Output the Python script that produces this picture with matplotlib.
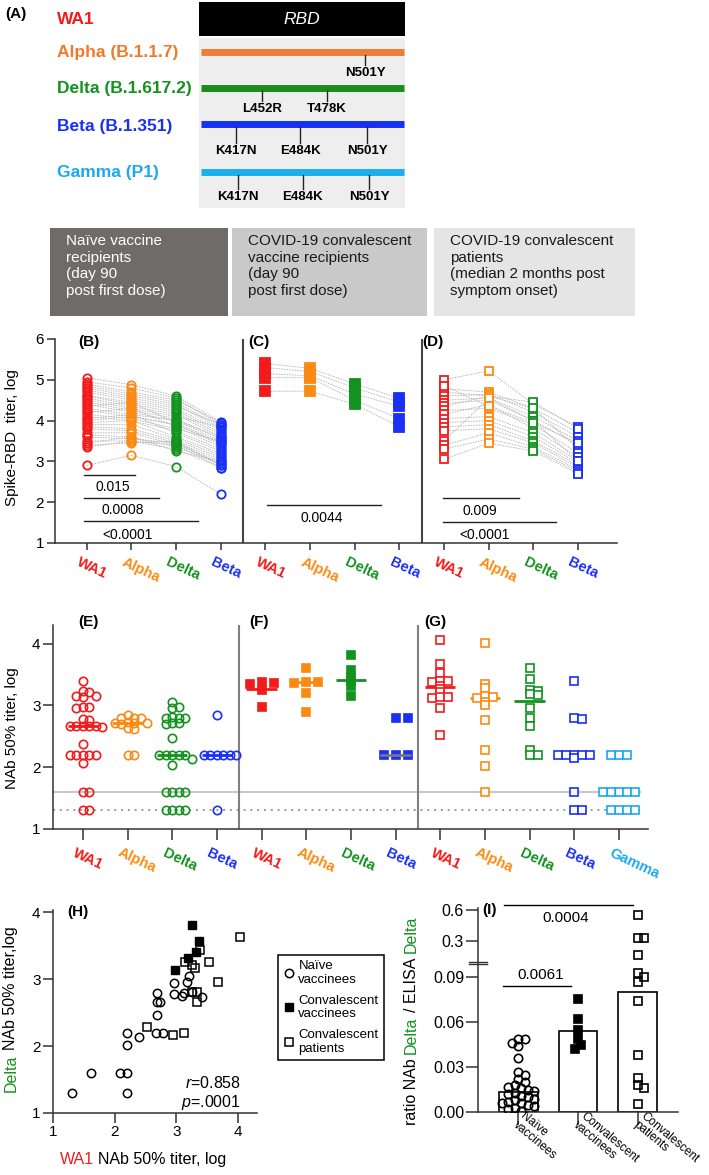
import numpy as np
import matplotlib
matplotlib.use('Agg')
import matplotlib.pyplot as plt
from matplotlib.transforms import ScaledTranslation
from matplotlib.patches import Rectangle

plt.rcParams['font.family'] = ['Liberation Sans', 'DejaVu Sans']
plt.rcParams['mathtext.fontset'] = 'custom'
plt.rcParams['mathtext.it'] = 'Liberation Sans:italic'
plt.rcParams['mathtext.rm'] = 'Liberation Sans'

W, H = 709, 1175

# colours
vcol = {'WA1': '#f21a1a', 'Alpha': '#fb8a12', 'Delta': '#12921e',
        'Beta': '#1a30f5', 'Gamma': '#1ca8ee'}
bar_col = {'Alpha': '#ef7d3a', 'Delta': '#1a8c1a', 'Beta': '#1432f0', 'Gamma': '#1ab0ee'}
GREEN = '#12921e'
RED = '#f21a1a'

# ---------------- data ----------------
# panel A: mutations (x = fraction along the RBD bar)
variant_labels = ['WA1', 'Alpha (B.1.1.7)', 'Delta (B.1.617.2)', 'Beta (B.1.351)', 'Gamma (P1)']
variant_keys = ['WA1', 'Alpha', 'Delta', 'Beta', 'Gamma']
mut_names = {'Alpha': ['N501Y'],
             'Delta': ['L452R', 'T478K'],
             'Beta': ['K417N', 'E484K', 'N501Y'],
             'Gamma': ['K417N', 'E484K', 'N501Y']}
mut_pos = {'Alpha': [0.81],
           'Delta': [0.30, 0.62],
           'Beta': [0.17, 0.49, 0.82],
           'Gamma': [0.18, 0.50, 0.83]}

headers = ['Naïve vaccine\nrecipients\n(day 90\npost first dose)',
           'COVID-19 convalescent\nvaccine recipients\n(day 90\npost first dose)',
           'COVID-19 convalescent\npatients\n(median 2 months post\nsymptom onset)']

# panels B-D: spike-RBD titer, log (columns WA1, Alpha, Delta, Beta)
rbd_naive = np.array([
    [5.05, 4.88, 4.60, 3.97], [4.95, 4.80, 4.55, 3.90], [4.90, 4.70, 4.50, 3.95],
    [4.85, 4.65, 4.45, 3.85], [4.80, 4.60, 4.40, 3.80], [4.75, 4.55, 4.35, 3.90],
    [4.70, 4.50, 4.30, 3.75], [4.62, 4.45, 4.25, 3.70], [4.60, 4.40, 4.20, 3.65],
    [4.55, 4.35, 4.15, 3.60], [4.50, 4.30, 4.10, 3.85], [4.45, 4.25, 4.05, 3.55],
    [4.40, 4.20, 4.00, 3.50], [4.35, 4.45, 3.95, 3.45], [4.30, 4.15, 4.00, 3.60],
    [4.25, 4.10, 3.90, 3.40], [4.20, 4.30, 3.85, 3.35], [4.15, 4.05, 3.80, 3.50],
    [4.10, 4.00, 3.75, 3.30], [4.05, 4.15, 3.70, 3.25], [4.00, 4.10, 3.90, 3.45],
    [3.95, 4.00, 3.60, 3.20], [3.90, 3.90, 3.55, 3.15], [3.85, 3.80, 3.50, 3.10],
    [3.80, 3.75, 3.45, 3.05], [3.70, 3.70, 3.40, 3.00], [3.65, 3.60, 3.35, 2.95],
    [3.60, 3.55, 3.45, 2.90], [3.50, 3.50, 3.30, 2.85], [3.45, 3.60, 3.25, 3.00],
    [3.40, 3.45, 3.50, 2.90], [3.35, 3.50, 3.40, 2.85], [2.90, 3.15, 2.87, 2.20]])
rbd_conv_vacc = np.array([
    [5.40, 5.28, 4.90, 4.55], [5.30, 5.20, 4.80, 4.45], [5.15, 5.10, 4.65, 4.35],
    [5.05, 5.05, 4.50, 4.05], [4.72, 4.72, 4.40, 3.85]])
rbd_conv_pat = np.array([
    [5.00, 5.22, 4.40, 3.85], [4.78, 4.70, 4.30, 3.70], [4.70, 4.60, 4.45, 3.80],
    [4.60, 4.65, 4.20, 3.60], [4.50, 4.55, 4.10, 3.50], [4.42, 4.50, 4.00, 3.40],
    [4.35, 4.60, 4.30, 3.30], [4.25, 4.30, 3.90, 3.20], [4.15, 4.40, 3.80, 3.10],
    [4.05, 4.10, 3.70, 3.00], [3.95, 4.00, 3.60, 2.95], [3.85, 3.90, 3.50, 2.90],
    [3.75, 3.80, 3.45, 2.85], [3.50, 4.55, 4.00, 3.00], [3.40, 3.70, 3.35, 2.80],
    [3.30, 3.55, 3.30, 2.75], [3.05, 3.45, 3.25, 2.70], [4.85, 4.35, 3.95, 3.45]])
rbd_brackets = [(-0.05, 1.07, 2.66, '0.015', 0.58, 2.38),
                (-0.05, 1.62, 2.10, '0.0008', 0.80, 1.80),
                (-0.05, 2.49, 1.53, '<0.0001', 0.91, 1.20),
                (4.04, 6.58, 1.92, '0.0044', 5.25, 1.61),
                (7.98, 9.67, 2.10, '0.009', 8.80, 1.79),
                (7.98, 10.50, 1.52, '<0.0001', 8.90, 1.20)]

# panels E-G: NAb 50% titer, log
nab_naive = {
    'WA1': [3.40, 3.23, 3.22, 3.15, 3.15, 3.14, 2.97, 2.97, 2.96, 2.78, 2.77, 2.67, 2.67,
            2.66, 2.66, 2.66, 2.65, 2.37, 2.20, 2.20, 2.20, 2.20, 2.20, 2.07, 1.6, 1.6, 1.3, 1.3],
    'Alpha': [2.85, 2.80, 2.80, 2.79, 2.73, 2.72, 2.72, 2.71, 2.70, 2.63, 2.62, 2.20, 2.20],
    'Delta': [3.05, 2.97, 2.96, 2.81, 2.80, 2.80, 2.79, 2.72, 2.71, 2.70, 2.47, 2.20, 2.20,
              2.20, 2.20, 2.20, 2.13, 2.03, 1.6, 1.6, 1.6, 1.6, 1.3, 1.3, 1.3, 1.3],
    'Beta': [2.85, 2.2, 2.2, 2.2, 2.2, 2.2, 2.2, 1.3]}
nab_conv_vacc = {
    'WA1': [3.37, 3.36, 3.35, 3.25, 2.97],
    'Alpha': [3.60, 3.38, 3.37, 3.36, 3.20, 2.89],
    'Delta': [3.82, 3.58, 3.46, 3.40, 3.32, 3.15],
    'Beta': [2.80, 2.80, 2.20, 2.20, 2.20]}
nab_conv_pat = {
    'WA1': [4.05, 3.67, 3.53, 3.40, 3.39, 3.38, 3.32, 3.27, 3.22, 3.13, 3.13, 3.12, 2.95, 2.52],
    'Alpha': [4.01, 3.35, 3.28, 3.15, 3.13, 3.12, 3.05, 3.00, 2.77, 2.28, 2.02, 1.6],
    'Delta': [3.61, 3.43, 3.25, 3.24, 3.18, 3.16, 2.95, 2.80, 2.66, 2.28, 2.20, 2.20],
    'Beta': [3.40, 2.80, 2.78, 2.2, 2.2, 2.2, 2.2, 2.2, 2.15, 1.6, 1.3, 1.3],
    'Gamma': [2.2, 2.2, 2.2, 1.6, 1.6, 1.6, 1.6, 1.6, 1.3, 1.3, 1.3, 1.3]}
med_naive = {'WA1': 2.66, 'Alpha': 2.72, 'Delta': 2.20, 'Beta': 2.20}
med_conv_vacc = {'WA1': 3.26, 'Alpha': 3.37, 'Delta': 3.41, 'Beta': 2.20}
med_conv_pat = {'WA1': 3.30, 'Alpha': 3.12, 'Delta': 3.07, 'Beta': 2.20, 'Gamma': 1.60}
lod_solid = 1.6
lod_dotted = 1.3

# panel H: WA1 vs Delta NAb
h_naive_wa1 = [1.31, 1.61, 2.09, 2.20, 2.20, 2.20, 2.20, 2.39, 2.67, 2.79, 2.68, 2.68, 2.74,
               2.69, 2.96, 2.96, 3.09, 3.13, 3.17, 3.21, 3.25, 3.41]
h_naive_delta = [1.30, 1.60, 1.60, 1.60, 1.30, 2.02, 2.20, 2.14, 2.20, 2.20, 2.47, 2.65, 2.65,
                 2.79, 2.94, 2.78, 2.75, 2.79, 2.95, 3.05, 2.80, 2.73]
h_cv_wa1 = [3.26, 3.37, 3.32, 3.19, 2.98]
h_cv_delta = [3.81, 3.56, 3.41, 3.31, 3.14]
h_cp_wa1 = [4.03, 3.38, 3.14, 3.25, 3.31, 3.53, 3.67, 3.25, 3.34, 3.34, 2.95, 3.13, 2.53]
h_cp_delta = [3.62, 3.44, 3.25, 3.21, 3.16, 3.25, 2.96, 2.80, 2.80, 2.66, 2.16, 2.20, 2.28]

# panel I: ratio NAb Delta / ELISA Delta
i_cats = ['Naïve\nvaccinees', 'Convalescent\nvaccinees', 'Convalescent\npatients']
i_bars = [0.0135, 0.054, 0.080]
i_naive = [0.049, 0.049, 0.046, 0.044, 0.036, 0.027, 0.025, 0.022, 0.020, 0.018, 0.017, 0.016,
           0.015, 0.014, 0.013, 0.012, 0.011, 0.010, 0.009, 0.008, 0.007, 0.006, 0.006, 0.005,
           0.004, 0.003, 0.002, 0.001]
i_conv_vacc = [0.0755, 0.062, 0.055, 0.049, 0.045, 0.042]
i_conv_pat = [0.55, 0.33, 0.33, 0.17, 0.093, 0.090, 0.087, 0.074, 0.038, 0.023, 0.018, 0.016, 0.0055]


# ---------------- helpers ----------------
def rect(l, t, r, b):
    return [l / W, 1 - b / H, (r - l) / W, (b - t) / H]


def swarm(ypix, d, dyt=None):
    # x offsets (pixels); points dodge sideways when they would overlap
    placed, offs = [], []
    for y in ypix:
        found = None
        for k in range(80):
            cands = [0.0] if k == 0 else [k * d / 2, -k * d / 2]
            for c in cands:
                if dyt is None:
                    ok = all((c - px) ** 2 + (y - py) ** 2 >= d * d for px, py in placed)
                else:
                    ok = all(abs(c - px) >= d or abs(y - py) >= dyt for px, py in placed)
                if ok:
                    found = c
                    break
            if found is not None:
                break
        placed.append((found, y))
        offs.append(found)
    return np.array(offs)


def color_text(x, y, parts, size, rotation=0, va='baseline'):
    r = fig.canvas.get_renderer()
    sp = 0.278 * size * 100 / 72
    for s, c in parts:
        if s.startswith(' '):
            if rotation == 0:
                x += sp
            else:
                y -= sp
            s = s.lstrip()
        t = fig.text(x / W, 1 - y / H, s, color=c, rotation=rotation, rotation_mode='anchor',
                     ha='left', va=va, fontsize=size)
        bb = t.get_window_extent(renderer=r)
        if rotation == 0:
            x += bb.width
        else:
            y -= bb.height


def style_axis(ax):
    for s in ['top', 'right']:
        ax.spines[s].set_visible(False)
    for s in ['left', 'bottom']:
        ax.spines[s].set_color('#333333')
        ax.spines[s].set_linewidth(1.1)


def variant_ticklabels(ax, names, dx_px=-6):
    ax.set_xticklabels(names, rotation=-25, ha='left', rotation_mode='anchor',
                       fontweight='bold', fontsize=10.5)
    for lbl, n in zip(ax.get_xticklabels(), names):
        lbl.set_color(vcol[n])
        lbl.set_transform(lbl.get_transform() + ScaledTranslation(dx_px / 100, 0, fig.dpi_scale_trans))


fig = plt.figure(figsize=(W / 100, H / 100), dpi=100)

# ---------------- panel A + headers (pixel axes) ----------------
ax0 = fig.add_axes([0, 0, 1, 1])
ax0.set_xlim(0, W)
ax0.set_ylim(H, 0)
ax0.axis('off')

ax0.text(5, 14, '(A)', fontsize=11, fontweight='bold', va='center')
label_y = [19, 52, 88, 127, 172]
bar_y = {'Alpha': 52, 'Delta': 88, 'Beta': 124, 'Gamma': 172}
mlabel_y = {'Alpha': 73, 'Delta': 109, 'Beta': 151, 'Gamma': 197}
for lab, key, y in zip(variant_labels, variant_keys, label_y):
    ax0.text(57, y, lab, color=vcol[key] if key != 'Alpha' else '#f07a2a', fontsize=12.5,
             fontweight='bold', va='center')
ax0.add_patch(Rectangle((199, 38), 206, 170, facecolor='#eeeeee', edgecolor='none'))
ax0.add_patch(Rectangle((199, 2), 206, 34, facecolor='black', edgecolor='none'))
ax0.text(302, 19, 'RBD', color='white', fontsize=12.5, fontstyle='italic', ha='center', va='center')
bx0, bx1 = 201, 404
for key in ['Alpha', 'Delta', 'Beta', 'Gamma']:
    y = bar_y[key]
    ax0.plot([bx0, bx1], [y, y], color=bar_col[key], lw=5, solid_capstyle='butt')
    for name, f in zip(mut_names[key], mut_pos[key]):
        x = bx0 + f * (bx1 - bx0)
        ax0.plot([x, x], [y + 3, mlabel_y[key] - 8], color='#222222', lw=1)
        ax0.text(x, mlabel_y[key], name, fontsize=9.5, fontweight='bold', ha='center', va='center')

box_x = [(50, 228), (232, 427), (434, 635)]
box_fc = ['#6f6b6b', '#c9c9c9', '#e5e5e5']
box_tc = ['white', '#1a1a1a', '#1a1a1a']
for (l, r), fc, tc, txt in zip(box_x, box_fc, box_tc, headers):
    ax0.add_patch(Rectangle((l, 228), r - l, 88, facecolor=fc, edgecolor='none'))
    ax0.text(l + 16, 234, txt, color=tc, fontsize=11, va='top', ha='left', linespacing=1.24)

# ---------------- panels B-D ----------------
ax1 = fig.add_axes(rect(55, 339, 617, 543))
style_axis(ax1)
ax1.set_xlim(-0.71, 11.87)
ax1.set_ylim(1, 6)
ax1.set_yticks([1, 2, 3, 4, 5, 6])
ax1.tick_params(axis='y', length=6, width=1.1, labelsize=11, pad=2, color='#333333')
ax1.tick_params(axis='x', length=5, width=1.1, pad=4, color='#333333')
cols4 = ['WA1', 'Alpha', 'Delta', 'Beta']
for start, data, mk, ms, mfc in [(0, rbd_naive, 'o', 6, 'none'),
                                 (4, rbd_conv_vacc, 's', 6.5, None),
                                 (8, rbd_conv_pat, 's', 5.5, 'white')]:
    xs = start + np.arange(4)
    for row in data:
        ax1.plot(xs, row, color='#b5b5b5', lw=0.6, ls=(0, (2, 1.2)), zorder=1)
    for j, v in enumerate(cols4):
        c = vcol[v]
        ax1.plot(np.full(len(data), xs[j]), data[:, j], ls='none', marker=mk, ms=ms,
                 mec=c, mfc=c if mfc is None else mfc, mew=1.3, zorder=3)
for x1, x2, y, txt, tx, ty in rbd_brackets:
    ax1.plot([x1, x2], [y, y], color='#222222', lw=1)
    ax1.text(tx, ty, txt, fontsize=10, ha='center', va='center')
for xs_ in [3.5, 7.5]:
    ax1.axvline(xs_, color='#444444', lw=1.5)
for x, lab in [(-0.2, '(B)'), (3.62, '(C)'), (7.51, '(D)')]:
    ax1.text(x, 5.93, lab, fontsize=11, fontweight='bold', va='center', ha='left')
ax1.set_xticks(np.arange(12))
variant_ticklabels(ax1, cols4 * 3)
fig.text(12 / W, 1 - 438 / H, 'Spike-RBD  titer, log', rotation=90, fontsize=11,
         ha='center', va='center')

# ---------------- panels E-G ----------------
ax2 = fig.add_axes(rect(53, 625, 648, 829))
style_axis(ax2)
ax2.set_xlim(-0.67, 12.65)
ax2.set_ylim(1, 4.3)
ax2.set_yticks([1, 2, 3, 4])
ax2.tick_params(axis='y', length=7, width=1.1, labelsize=11, pad=2, color='#333333')
ax2.tick_params(axis='x', length=8, width=1.1, pad=4, color='#333333')
sx, sy = 44.7, 62.0
ax2.plot([-0.67, 12.46], [lod_solid, lod_solid], color='#c8c8c8', lw=1.5, zorder=1)
ax2.plot([-0.67, 12.46], [lod_dotted, lod_dotted], color='#9a9a9a', lw=1.4, ls=(0, (1, 2.5)), zorder=1)
groups = [(0, nab_naive, med_naive, 'o', 6, 'none', 6.5, 5.0),
          (4, nab_conv_vacc, med_conv_vacc, 's', 6, None, 12.0, 2.5),
          (8, nab_conv_pat, med_conv_pat, 's', 5.5, 'white', 8.0, 2.5)]
tick_names = []
for start, data, meds, mk, ms, mfc, d, dyt in groups:
    for j, v in enumerate(data):
        x0 = start + j
        tick_names.append(v)
        vals = np.array(data[v])
        offs = swarm(vals * sy, d, dyt) / sx
        c = vcol[v]
        lc = '#777777' if (start == 4 and v == 'Beta') else c
        ax2.plot([x0 - 0.34, x0 + 0.34], [meds[v], meds[v]], color=lc, lw=2,
                 zorder=2 if lc == c else 4, solid_capstyle='butt')
        ax2.plot(x0 + offs, vals, ls='none', marker=mk, ms=ms, mec=c,
                 mfc=c if mfc is None else mfc, mew=1.2, zorder=3)
for xs_ in [3.5, 7.5]:
    ax2.axvline(xs_, color='#808080', lw=1.5)
for x, lab in [(-0.11, '(E)'), (3.72, '(F)'), (7.64, '(G)')]:
    ax2.text(x, 4.35, lab, fontsize=11, fontweight='bold', va='center', ha='left', clip_on=False)
ax2.set_xticks(np.arange(13))
variant_ticklabels(ax2, tick_names)
fig.text(12 / W, 1 - 728 / H, 'NAb 50% titer, log', rotation=90, fontsize=11,
         ha='center', va='center')

# ---------------- panel H ----------------
ax3 = fig.add_axes(rect(53, 910, 257, 1113))
style_axis(ax3)
ax3.set_xlim(1, 4.31)
ax3.set_ylim(1, 4.03)
ax3.set_xticks([1, 2, 3, 4])
ax3.set_yticks([1, 2, 3, 4])
ax3.tick_params(length=7, width=1.1, labelsize=11, pad=2, color='#333333')
l1, = ax3.plot(h_naive_wa1, h_naive_delta, ls='none', marker='o', ms=6, mfc='none', mec='black',
               mew=1.1, label='Naïve\nvaccinees')
l2, = ax3.plot(h_cv_wa1, h_cv_delta, ls='none', marker='s', ms=6, mfc='black', mec='black',
               label='Convalescent\nvaccinees')
l3, = ax3.plot(h_cp_wa1, h_cp_delta, ls='none', marker='s', ms=6, mfc='none', mec='black',
               mew=1.1, label='Convalescent\npatients')
ax3.text(1.23, 4.0, '(H)', fontsize=11, fontweight='bold', va='center', ha='left')
ax3.text(4.05, 1.45, '$r$=0.858', fontsize=11.5, ha='right', va='center')
ax3.text(4.05, 1.16, '$p$=.0001', fontsize=11.5, ha='right', va='center')
leg = fig.legend(handles=[l1, l2, l3], loc='upper left', bbox_to_anchor=(278 / W, 1 - 955 / H),
                 bbox_transform=fig.transFigure, frameon=True, fancybox=False,
                 edgecolor='black', framealpha=1, fontsize=9.5, handlelength=0.8,
                 handletextpad=0.35, labelspacing=0.65, borderpad=0.4, borderaxespad=0)
leg.get_frame().set_linewidth(1.1)
color_text(60, 1164, [('WA1', RED), (' NAb 50% titer, log', 'black')], 11.5)
color_text(11, 1092, [('Delta', GREEN), (' NAb 50% titer,log', 'black')], 11.5,
           rotation=90, va='center')

# ---------------- panel I ----------------
def fwd(y):
    y = np.asarray(y, dtype=float)
    return np.where(y <= 0.1, y, 0.1 + (y - 0.1) * 0.0695)


def inv(y):
    y = np.asarray(y, dtype=float)
    return np.where(y <= 0.1, y, 0.1 + (y - 0.1) / 0.0695)


ax4 = fig.add_axes(rect(478, 908, 678, 1112))
style_axis(ax4)
ax4.set_yscale('function', functions=(fwd, inv))
ax4.set_xlim(-0.67, 2.67)
ax4.set_ylim(0, 0.62)
ax4.set_yticks([0, 0.03, 0.06, 0.09, 0.3, 0.6])
ax4.set_yticklabels(['0.00', '0.03', '0.06', '0.09', '0.3', '0.6'])
ax4.yaxis.set_minor_locator(matplotlib.ticker.NullLocator())
ax4.tick_params(axis='y', length=9, width=1.1, labelsize=11.5, pad=1, color='#333333')
ax4.tick_params(axis='x', length=9, width=1.1, pad=0, color='#333333')
ax4.bar(np.arange(3), i_bars, width=0.65, facecolor='white', edgecolor='black', lw=1.2, zorder=1)
ipx = 204 / float(fwd(0.62))
for k, (vals, mk, mfc, ms) in enumerate([(i_naive, 'o', 'none', 6),
                                         (i_conv_vacc, 's', 'black', 5.5),
                                         (i_conv_pat, 's', 'none', 5.5)]):
    vals = np.array(vals)
    offs = swarm(fwd(vals) * ipx, 6.5) / 60.0
    ax4.plot(k + offs, vals, ls='none', marker=mk, ms=ms, mfc=mfc, mec='black', mew=1.2, zorder=3)
ax4.plot([-0.25, 0.88], [0.0838, 0.0838], color='black', lw=1)
ax4.text(0.37, 0.0917, '0.0061', fontsize=11, ha='center', va='center')
ax4.plot([-0.23, 1.92], [0.65, 0.65], color='black', lw=1, clip_on=False)
ax4.text(0.8, 0.52, '0.0004', fontsize=11, ha='center', va='center')
ax4.text(-0.6, 0.6, '(I)', fontsize=11, fontweight='bold', va='center', ha='left')
# axis break
ytr = ax4.get_yaxis_transform()
ax4.add_patch(Rectangle((-0.02, 0.0992), 0.04, 0.0043, transform=ytr, facecolor='white',
                        edgecolor='none', clip_on=False, zorder=5))
for yb in [0.0990, 0.1037]:
    ax4.plot([-0.045, 0.045], [yb, yb], transform=ytr, color='#333333', lw=1, clip_on=False, zorder=6)
ax4.set_xticks(np.arange(3))
ax4.set_xticklabels(i_cats, rotation=-40, ha='left', va='top', rotation_mode='anchor',
                    fontsize=8.5, linespacing=0.92)
for lbl in ax4.get_xticklabels():
    lbl.set_transform(lbl.get_transform() + ScaledTranslation(8 / 100, 14 / 100, fig.dpi_scale_trans))
color_text(411, 1125, [('ratio NAb', 'black'), (' Delta', GREEN), (' / ELISA', 'black'),
                       (' Delta', GREEN)], 11.5, rotation=90, va='center')

fig.savefig('out.png', dpi=100)
